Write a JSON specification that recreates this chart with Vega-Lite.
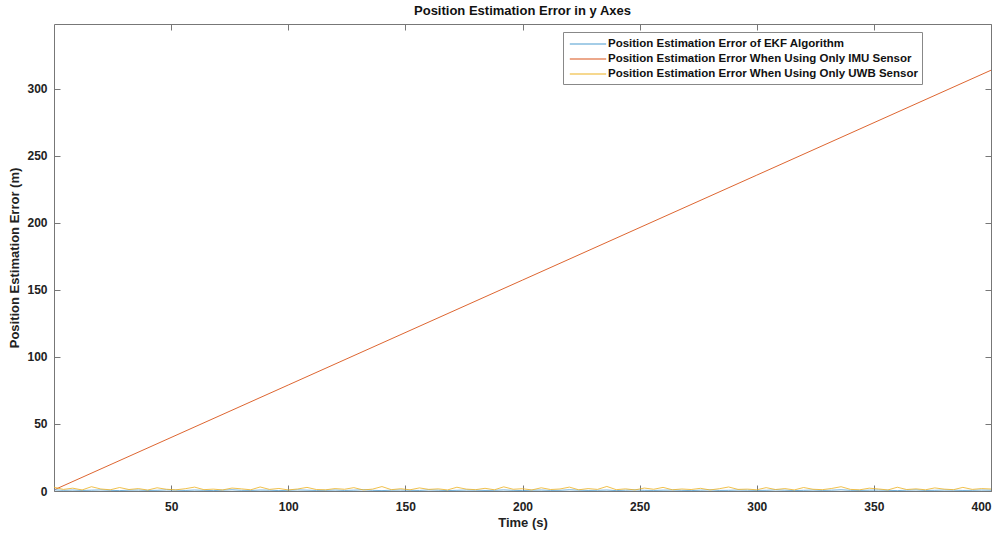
{
  "$schema": "https://vega.github.io/schema/vega-lite/v6.json",
  "width": 937,
  "height": 467,
  "autosize": "none",
  "padding": {"left": 54, "top": 24, "right": 8, "bottom": 45},
  "background": "white",
  "config": {
    "view": {"stroke": null},
    "font": "Liberation Sans",
    "axis": {
      "grid": false,
      "domainColor": "#777",
      "tickColor": "#777",
      "tickSize": -6,
      "labelFont": "Liberation Sans",
      "labelFontWeight": "bold",
      "labelFontSize": 12,
      "labelColor": "#222",
      "titleFont": "Liberation Sans",
      "titleFontWeight": "bold",
      "titleFontSize": 13,
      "titleColor": "#222"
    }
  },
  "title": {
    "text": "Position Estimation Error in y Axes",
    "fontSize": 13,
    "fontWeight": "bold",
    "font": "Liberation Sans",
    "color": "#111",
    "offset": 6,
    "anchor": "middle"
  },
  "datasets": {
    "imu": [
      {"t": 0, "v": 0.8, "s": "i"},
      {"t": 100, "v": 79.1, "s": "i"},
      {"t": 200, "v": 157.4, "s": "i"},
      {"t": 300, "v": 235.7, "s": "i"},
      {"t": 400, "v": 314, "s": "i"}
    ],
    "noise": [
      {"t":0,"e":0.9,"u":2.8},{"t":4,"e":0.5,"u":1.2},{"t":8,"e":0.7,"u":2.1},{"t":12,"e":0.4,"u":0.8},{"t":16,"e":0.6,"u":3.2},
      {"t":20,"e":0.8,"u":1.5},{"t":24,"e":0.5,"u":0.9},{"t":28,"e":0.3,"u":2.6},{"t":32,"e":0.6,"u":1.1},{"t":36,"e":0.7,"u":1.8},
      {"t":40,"e":0.4,"u":0.7},{"t":44,"e":0.5,"u":2.4},{"t":48,"e":0.8,"u":1.3},{"t":52,"e":0.6,"u":0.9},{"t":56,"e":0.4,"u":1.7},
      {"t":60,"e":0.7,"u":2.9},{"t":64,"e":0.5,"u":1.0},{"t":68,"e":0.3,"u":1.4},{"t":72,"e":0.6,"u":0.8},{"t":76,"e":0.9,"u":2.2},
      {"t":80,"e":0.5,"u":1.6},{"t":84,"e":0.4,"u":0.9},{"t":88,"e":0.7,"u":3.0},{"t":92,"e":0.6,"u":1.2},{"t":96,"e":0.3,"u":1.9},
      {"t":100,"e":0.5,"u":0.8},{"t":104,"e":0.8,"u":1.5},{"t":108,"e":0.6,"u":2.7},{"t":112,"e":0.4,"u":1.1},{"t":116,"e":0.5,"u":0.9},
      {"t":120,"e":0.7,"u":1.8},{"t":124,"e":0.4,"u":1.3},{"t":128,"e":0.6,"u":2.5},{"t":132,"e":0.9,"u":0.8},{"t":136,"e":0.5,"u":1.4},
      {"t":140,"e":0.3,"u":3.3},{"t":144,"e":0.6,"u":1.0},{"t":148,"e":0.7,"u":1.7},{"t":152,"e":0.5,"u":0.9},{"t":156,"e":0.4,"u":2.3},
      {"t":160,"e":0.8,"u":1.2},{"t":164,"e":0.6,"u":1.6},{"t":168,"e":0.3,"u":0.8},{"t":172,"e":0.5,"u":2.8},{"t":176,"e":0.7,"u":1.4},
      {"t":180,"e":0.6,"u":1.0},{"t":184,"e":0.4,"u":2.0},{"t":188,"e":0.5,"u":0.9},{"t":192,"e":0.8,"u":3.1},{"t":196,"e":0.5,"u":1.3},
      {"t":200,"e":0.3,"u":1.7},{"t":204,"e":0.6,"u":0.8},{"t":208,"e":0.7,"u":2.4},{"t":212,"e":0.4,"u":1.1},{"t":216,"e":0.5,"u":1.5},
      {"t":220,"e":0.9,"u":2.9},{"t":224,"e":0.6,"u":0.9},{"t":228,"e":0.4,"u":1.8},{"t":232,"e":0.5,"u":1.2},{"t":236,"e":0.7,"u":3.4},
      {"t":240,"e":0.3,"u":1.0},{"t":244,"e":0.6,"u":1.6},{"t":248,"e":0.8,"u":0.8},{"t":252,"e":0.5,"u":2.2},{"t":256,"e":0.4,"u":1.3},
      {"t":260,"e":0.6,"u":2.7},{"t":264,"e":0.7,"u":0.9},{"t":268,"e":0.5,"u":1.5},{"t":272,"e":0.3,"u":1.1},{"t":276,"e":0.6,"u":2.0},
      {"t":280,"e":0.8,"u":0.8},{"t":284,"e":0.4,"u":1.7},{"t":288,"e":0.5,"u":3.0},{"t":292,"e":0.7,"u":1.2},{"t":296,"e":0.6,"u":1.4},
      {"t":300,"e":0.4,"u":0.9},{"t":304,"e":0.5,"u":2.5},{"t":308,"e":0.8,"u":1.1},{"t":312,"e":0.6,"u":1.8},{"t":316,"e":0.3,"u":0.8},
      {"t":320,"e":0.5,"u":2.6},{"t":324,"e":0.7,"u":1.3},{"t":328,"e":0.4,"u":1.0},{"t":332,"e":0.6,"u":1.9},{"t":336,"e":0.9,"u":3.2},
      {"t":340,"e":0.5,"u":1.2},{"t":344,"e":0.4,"u":0.9},{"t":348,"e":0.6,"u":2.1},{"t":352,"e":0.7,"u":1.5},{"t":356,"e":0.5,"u":0.8},
      {"t":360,"e":0.3,"u":2.8},{"t":364,"e":0.6,"u":1.1},{"t":368,"e":0.8,"u":1.6},{"t":372,"e":0.4,"u":0.9},{"t":376,"e":0.5,"u":2.3},
      {"t":380,"e":0.7,"u":1.4},{"t":384,"e":0.6,"u":1.0},{"t":388,"e":0.4,"u":2.7},{"t":392,"e":0.5,"u":1.2},{"t":396,"e":0.7,"u":1.8},
      {"t":400,"e":0.6,"u":1.5}
    ]
  },
  "layer": [
    {
      "data": {"name": "imu"},
      "mark": {"type": "line", "strokeWidth": 0.9, "clip": true},
      "encoding": {
        "x": {
          "field": "t", "type": "quantitative",
          "scale": {"domain": [0, 400], "nice": false},
          "axis": {"values": [50,100,150,200,250,300,350,400], "title": "Time (s)", "labelPadding": 16, "titlePadding": 4, "orient": "bottom"}
        },
        "y": {
          "field": "v", "type": "quantitative",
          "scale": {"domain": [0, 348.5], "nice": false, "zero": false},
          "axis": {"values": [0,50,100,150,200,250,300], "title": "Position Estimation Error (m)", "labelPadding": 13, "titlePadding": 5, "orient": "left"}
        },
        "color": {
          "field": "s", "type": "nominal",
          "scale": {"domain": ["e", "i", "u"], "range": ["#4a9bd0", "#D95319", "#EDB120"]},
          "legend": {
            "title": null,
            "orient": "none",
            "legendX": 509,
            "legendY": 8,
            "symbolType": "M-2.6,0H2.6",
            "symbolSize": 196,
            "symbolOffset": 13,
            "symbolStrokeWidth": 1.2,
            "labelOffset": 12,
            "labelFont": "Liberation Sans",
            "labelFontWeight": "bold",
            "labelFontSize": 11.5,
            "labelColor": "#111",
            "labelLimit": 400,
            "rowPadding": 1,
            "strokeColor": "#888",
            "fillColor": "white",
            "padding": 4,
            "labelExpr": "datum.label == 'e' ? 'Position Estimation Error of EKF Algorithm' : datum.label == 'i' ? 'Position Estimation Error When Using Only IMU Sensor' : 'Position Estimation Error When Using Only UWB Sensor'"
          }
        }
      }
    },
    {
      "data": {"name": "noise"},
      "transform": [{"fold": ["e", "u"], "as": ["s", "v"]}],
      "mark": {"type": "line", "strokeWidth": 0.8, "clip": true},
      "encoding": {
        "x": {
          "field": "t", "type": "quantitative",
          "axis": {"values": [50,100,150,200,250,300,350,400], "labels": false, "title": null, "orient": "top"}
        },
        "y": {
          "field": "v", "type": "quantitative",
          "axis": {"values": [0,50,100,150,200,250,300], "labels": false, "title": null, "orient": "right"}
        },
        "color": {"field": "s", "type": "nominal"}
      }
    }
  ],
  "resolve": {"axis": {"x": "independent", "y": "independent"}}
}
